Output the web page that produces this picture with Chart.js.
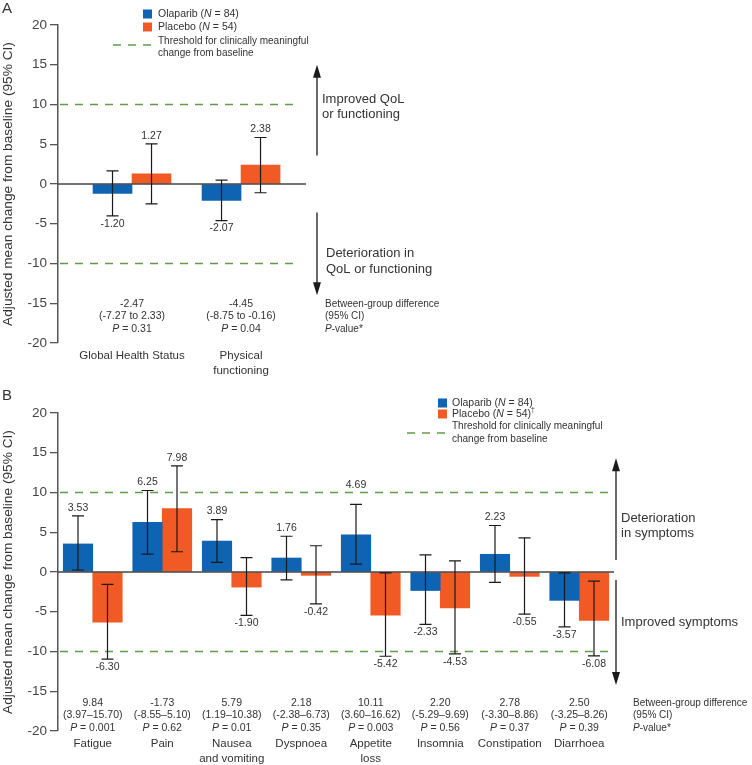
<!DOCTYPE html>
<html lang="en">
<head>
<meta charset="UTF-8">
<title>Olaparib vs placebo - change from baseline</title>
<script src="https://cdn.jsdelivr.net/npm/chart.js"></script>
<style>
  body { margin: 0; background: #fff; }
  #wrap { position: relative; width: 752px; height: 765px; }
  #wrap canvas { position: absolute; left: 0; }
  #chartA { top: 0; }
  #chartB { top: 380px; }
</style>
</head>
<body>
<div id="wrap">
  <canvas id="chartA" width="752" height="380"></canvas>
  <canvas id="chartB" width="752" height="385"></canvas>
</div>
<script>
// ---- data: panel A (global health status / functioning) ----
const catsA = ['Global Health Status', ['Physical', 'functioning']];
const olaA = [-1.20, -2.07];
const olaLoA = [-4.0, -4.6];
const olaHiA = [1.65, 0.5];
const plaA = [1.27, 2.38];
const plaLoA = [-2.5, -1.1];
const plaHiA = [5.05, 5.85];
const diffA = ['-2.47', '-4.45'];
const ciA = ['(-7.27 to 2.33)', '(-8.75 to -0.16)'];
const pA = ['0.31', '0.04'];

// ---- data: panel B (symptom scales) ----
const catsB = ['Fatigue', 'Pain', ['Nausea', 'and vomiting'], 'Dyspnoea', ['Appetite', 'loss'], 'Insomnia', 'Constipation', 'Diarrhoea'];
const olaB = [3.53, 6.25, 3.89, 1.76, 4.69, -2.33, 2.23, -3.57];
const olaLoB = [0.25, 2.25, 1.2, -1.0, 1.0, -6.6, -1.3, -6.9];
const olaHiB = [7.05, 10.25, 6.6, 4.5, 8.5, 2.15, 5.85, -0.1];
const plaB = [-6.30, 7.98, -1.90, -0.42, -5.42, -4.53, -0.55, -6.08];
const plaLoB = [-10.95, 2.55, -5.45, -4.0, -10.6, -10.3, -5.3, -10.55];
const plaHiB = [-1.55, 13.35, 1.8, 3.3, -0.1, 1.4, 4.3, -1.15];
const diffB = ['9.84', '-1.73', '5.79', '2.18', '10.11', '2.20', '2.78', '2.50'];
const ciB = ['(3.97\u201315.70)', '(-8.55\u20135.10)', '(1.19\u201310.38)', '(-2.38\u20136.73)',
             '(3.60\u201316.62)', '(-5.29\u20139.69)', '(-3.30\u20138.86)', '(-3.25\u20138.26)'];
const pB = ['0.001', '0.62', '0.01', '0.35', '0.003', '0.56', '0.37', '0.39'];

// ---- shared ----
const yTicks = [20, 15, 10, 5, 0, -5, -10, -15, -20];
const threshold = 10;
const seriesNames = ['Olaparib', 'Placebo'];
const seriesN = [84, 54];
const yTitle = 'Adjusted mean change from baseline (95% CI)';

const FONT = '"Liberation Sans", Arial, Helvetica, sans-serif';
const TXT = '#333333';
const AXIS = '#555555';
const BLUE = '#0f63b3';
const ORANGE = '#f15a24';
const GREEN = '#5f9d48';

function font(size, italic) { return (italic ? 'italic ' : '') + size + 'px ' + FONT; }

// draw a run of text pieces (some italic / superscript)
function drawRich(ctx, segs, x, y, size, align) {
  let w = 0;
  segs.forEach(s => { ctx.font = font(s.sup ? size * 0.65 : size, s.i); w += ctx.measureText(s.t).width; });
  let cx = align === 'center' ? x - w / 2 : x;
  ctx.textAlign = 'left';
  ctx.textBaseline = 'middle';
  segs.forEach(s => {
    const sz = s.sup ? size * 0.65 : size;
    ctx.font = font(sz, s.i);
    ctx.fillText(s.t, cx, s.sup ? y - 4 : y);
    cx += ctx.measureText(s.t).width;
  });
}

function drawArrow(ctx, x, y1, y2) {
  const dir = y2 < y1 ? -1 : 1;
  ctx.beginPath();
  ctx.moveTo(x, y1);
  ctx.lineTo(x, y2 - dir * 10);
  ctx.stroke();
  ctx.beginPath();
  ctx.moveTo(x, y2);
  ctx.lineTo(x - 4, y2 - dir * 13);
  ctx.lineTo(x + 4, y2 - dir * 13);
  ctx.closePath();
  ctx.fill();
}

function makeExtras(cfg) {
  return {
    id: 'extras',
    beforeDatasetsDraw(chart) {
      const { ctx, chartArea: a, scales: { y } } = chart;
      ctx.save();
      ctx.strokeStyle = GREEN;
      ctx.lineWidth = 1.3;
      ctx.setLineDash([8, 7]);
      [threshold, -threshold].forEach(v => {
        const py = y.getPixelForValue(v);
        ctx.beginPath();
        ctx.moveTo(a.left + 2, py);
        ctx.lineTo(a.right - cfg.dashTrim, py);
        ctx.stroke();
      });
      ctx.restore();
    },
    afterDatasetsDraw(chart) {
      const { ctx, chartArea: a, scales: { y } } = chart;
      const thrPx = y.getPixelForValue(threshold);
      ctx.save();
      // zero line
      ctx.strokeStyle = '#444';
      ctx.lineWidth = 1.3;
      ctx.beginPath();
      ctx.moveTo(a.left, y.getPixelForValue(0));
      ctx.lineTo(a.right, y.getPixelForValue(0));
      ctx.stroke();
      // error bars + value labels
      chart.data.datasets.forEach((ds, di) => {
        chart.getDatasetMeta(di).data.forEach((bar, i) => {
          const yl = y.getPixelForValue(ds.lo[i]);
          const yh = y.getPixelForValue(ds.hi[i]);
          ctx.strokeStyle = '#1a1a1a';
          ctx.lineWidth = 1.2;
          ctx.beginPath();
          ctx.moveTo(bar.x, yl); ctx.lineTo(bar.x, yh);
          ctx.moveTo(bar.x - 6, yl); ctx.lineTo(bar.x + 6, yl);
          ctx.moveTo(bar.x - 6, yh); ctx.lineTo(bar.x + 6, yh);
          ctx.stroke();
          const v = ds.data[i].y;
          let ty = v >= 0 ? yh - 8 : yl + 8;
          if (v >= 0 && Math.abs(ty - thrPx) < 6) ty = thrPx - 7;
          ctx.fillStyle = TXT;
          ctx.font = font(10.5);
          ctx.textAlign = 'center';
          ctx.textBaseline = 'middle';
          ctx.fillText(v.toFixed(2), bar.x, ty);
        });
      });
      ctx.restore();
    },
    afterDraw(chart) {
      const { ctx, chartArea: a, scales: { x, y } } = chart;
      ctx.save();
      ctx.fillStyle = TXT;
      // panel letter
      ctx.font = font(15);
      ctx.textAlign = 'left';
      ctx.textBaseline = 'middle';
      ctx.fillText(cfg.letter, cfg.letterPos[0], cfg.letterPos[1]);

      // legend
      const L = cfg.legend;
      [BLUE, ORANGE].forEach((c, k) => {
        ctx.fillStyle = c;
        ctx.fillRect(L.sqX, L.rows[k] - 4.5, 9, 9);
        ctx.fillStyle = TXT;
        const segs = [{ t: seriesNames[k] + ' (' }, { t: 'N', i: true }, { t: ' = ' + seriesN[k] + ')' }];
        if (k === 1 && cfg.dagger) segs.push({ t: '\u2020', sup: true });
        drawRich(ctx, segs, L.txtX, L.rows[k], 10.5, 'left');
      });
      ctx.strokeStyle = GREEN;
      ctx.lineWidth = 1.3;
      ctx.setLineDash([8, 7]);
      ctx.beginPath();
      ctx.moveTo(L.dash[0], L.dashY);
      ctx.lineTo(L.dash[1], L.dashY);
      ctx.stroke();
      ctx.setLineDash([]);
      ctx.font = font(10);
      ctx.fillText('Threshold for clinically meaningful', L.txtX, L.thrRows[0]);
      ctx.fillText('change from baseline', L.txtX, L.thrRows[1]);

      // direction arrows
      ctx.strokeStyle = '#1a1a1a';
      ctx.fillStyle = '#1a1a1a';
      ctx.lineWidth = 1.3;
      const ax = a.right + cfg.arrowGap;
      drawArrow(ctx, ax, y.getPixelForValue(cfg.up[0]), y.getPixelForValue(cfg.up[1]));
      drawArrow(ctx, ax, y.getPixelForValue(cfg.down[0]), y.getPixelForValue(cfg.down[1]));
      ctx.fillStyle = TXT;
      ctx.font = font(13);
      cfg.upText.forEach((t, k) => ctx.fillText(t, ax + cfg.upTextDx, y.getPixelForValue(cfg.upTextY[k])));
      cfg.downText.forEach((t, k) => ctx.fillText(t, ax + cfg.downTextDx, y.getPixelForValue(cfg.downTextY[k])));

      // between-group stats
      const sy = a.bottom + cfg.statsTop;
      const lh = 12.5;
      cfg.diff.forEach((d, i) => {
        const cx = x.getPixelForValue(i + 1);
        ctx.font = font(10.5);
        ctx.textAlign = 'center';
        ctx.fillText(d, cx, sy);
        ctx.fillText(cfg.ci[i], cx, sy + lh);
        drawRich(ctx, [{ t: 'P', i: true }, { t: ' = ' + cfg.p[i] }], cx, sy + 2 * lh, 10.5, 'center');
      });
      const nx = a.right + 19;
      ctx.font = font(10);
      ctx.textAlign = 'left';
      ctx.fillText('Between-group difference', nx, sy);
      ctx.fillText('(95% CI)', nx, sy + lh);
      drawRich(ctx, [{ t: 'P', i: true }, { t: '-value*' }], nx, sy + 2 * lh, 10, 'left');

      // category labels
      ctx.font = font(11.5);
      ctx.textAlign = 'center';
      cfg.cats.forEach((c, i) => {
        const cx = x.getPixelForValue(i + 1);
        [].concat(c).forEach((line, k) => ctx.fillText(line, cx, a.bottom + 13 + k * 15));
      });
      ctx.restore();
    }
  };
}

function makePanel(id, cfg) {
  const datasets = [
    { label: seriesNames[0], data: cfg.ola.map((v, i) => ({ x: i + 1, y: v })), lo: cfg.olaLo, hi: cfg.olaHi,
      backgroundColor: BLUE, barThickness: cfg.barW, borderWidth: 0 },
    { label: seriesNames[1], data: cfg.pla.map((v, i) => ({ x: i + 1, y: v })), lo: cfg.plaLo, hi: cfg.plaHi,
      backgroundColor: ORANGE, barThickness: cfg.barW, borderWidth: 0 }
  ];
  return new Chart(document.getElementById(id), {
    type: 'bar',
    data: { datasets },
    options: {
      responsive: false,
      animation: false,
      devicePixelRatio: 1,
      layout: { padding: cfg.pad },
      plugins: { legend: { display: false }, tooltip: { enabled: false } },
      scales: {
        x: { type: 'linear', display: false, offset: false, min: cfg.xMin, max: cfg.xMax },
        y: {
          min: -20, max: 20,
          afterBuildTicks: s => { s.ticks = yTicks.map(v => ({ value: v })); },
          afterFit: s => { s.width = 58; },
          grid: { drawOnChartArea: false, drawTicks: true, tickLength: 8, color: AXIS, lineWidth: 1.3 },
          border: { color: AXIS, width: 1.5 },
          ticks: { color: '#444', font: { family: FONT, size: 13.5 }, padding: 3 },
          title: { display: true, text: yTitle, color: TXT, font: { family: FONT, size: 13.7 }, padding: { top: 0.5, bottom: 0 } }
        }
      }
    },
    plugins: [makeExtras(cfg)]
  });
}

makePanel('chartA', {
  cats: catsA, ola: olaA, olaLo: olaLoA, olaHi: olaHiA, pla: plaA, plaLo: plaLoA, plaHi: plaHiA,
  diff: diffA, ci: ciA, p: pA,
  pad: { left: 0, right: 446, top: 25, bottom: 37 },
  xMin: 0.321, xMax: 2.596, barW: 39, dashTrim: 6, statsTop: -39,
  letter: 'A', letterPos: [2, 9], dagger: false,
  legend: { sqX: 143, txtX: 158, rows: [14, 27], dash: [113, 153], dashY: 45, thrRows: [41, 53] },
  arrowGap: 11, up: [3.6, 15], down: [-3.6, -14],
  upText: ['Improved QoL', 'or functioning'], upTextDx: 5, upTextY: [10.7, 8.7],
  downText: ['Deterioration in', 'QoL or functioning'], downTextDx: 9, downTextY: [-8.7, -10.7]
});

makePanel('chartB', {
  cats: catsB, ola: olaB, olaLo: olaLoB, olaHi: olaHiB, pla: plaB, plaLo: plaLoB, plaHi: plaHiB,
  diff: diffB, ci: ciB, p: pB,
  pad: { left: 0, right: 138, top: 33, bottom: 34 },
  xMin: 0.5, xMax: 8.5, barW: 29.5, dashTrim: 6, statsTop: -28,
  letter: 'B', letterPos: [2, 16], dagger: true,
  legend: { sqX: 438, txtX: 452, rows: [23, 34], dash: [407, 445], dashY: 53, thrRows: [46, 59] },
  arrowGap: 2, up: [1.5, 14.3], down: [-1.0, -14.2],
  upText: ['Deterioration', 'in symptoms'], upTextDx: 5, upTextY: [6.8, 4.8],
  downText: ['Improved symptoms'], downTextDx: 5, downTextY: [-6.4]
});
</script>
</body>
</html>
